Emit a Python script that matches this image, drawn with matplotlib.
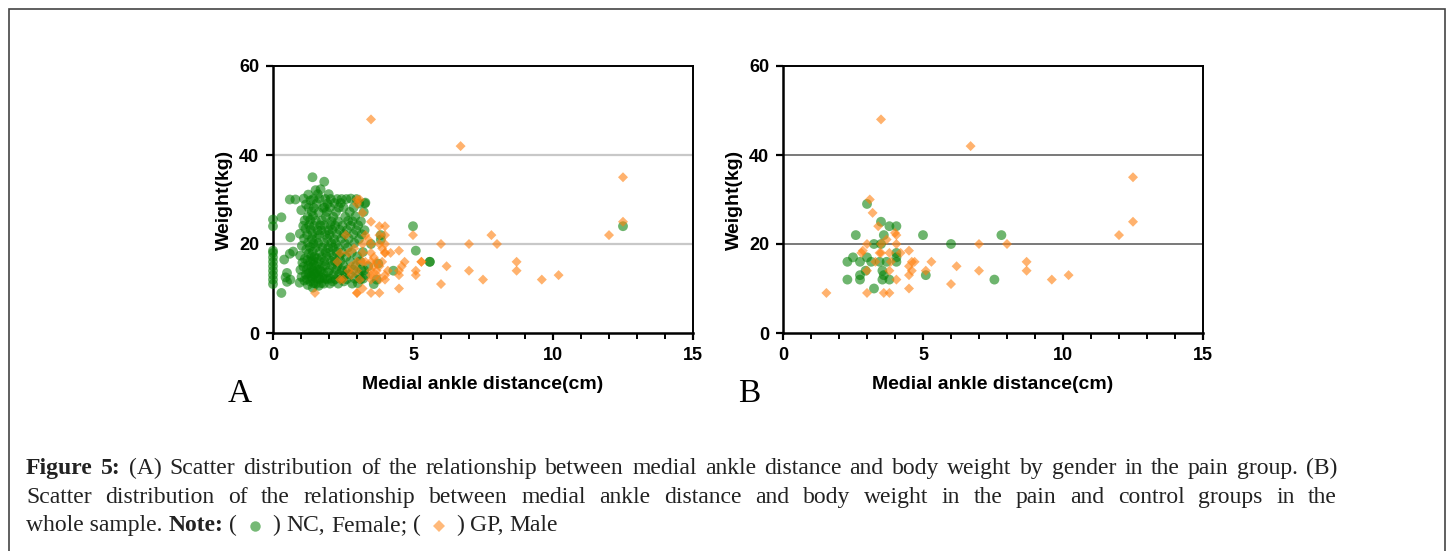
import matplotlib.pyplot as plt
from matplotlib.lines import Line2D
from matplotlib.patches import Rectangle

# ---- data ----
# Panel A: pain group split by gender
female_a = [
    (0, 11), (0, 12), (0, 13), (0, 14), (0, 15), (0, 16), (0, 17), (0, 18), (0, 18.5), (0, 24), (0, 25.5),
    (0.3, 9), (0.3, 26), (0.4, 16.5), (0.5, 13.5), (0.45, 12.5), (0.62, 12), (0.6, 17.8), (0.62, 21.5),
    (0.6, 30), (0.8, 30), (0.72, 18.3), (0.5, 11.5),
    (0.95, 11.3), (1.02, 12.6), (0.98, 14.2), (1.05, 15.8), (0.97, 17.4), (1.03, 19.6), (0.96, 22.3),
    (1.08, 24.1), (1.01, 27.6),
    (1.12, 11.8), (1.17, 13.1), (1.09, 14.9), (1.14, 16.7), (1.19, 18.8), (1.11, 21.2), (1.16, 23.4),
    (1.13, 25.3), (1.18, 28.9), (1.1, 30.2),
    (1.24, 10.8), (1.22, 12.1), (1.27, 13.4), (1.21, 14.3), (1.26, 15.2), (1.23, 16.4), (1.28, 17.9),
    (1.25, 20.3), (1.22, 22.1), (1.29, 24.2), (1.24, 26.1), (1.27, 28.2), (1.26, 31.1),
    (1.33, 11.6), (1.36, 12.7), (1.31, 13.6), (1.38, 14.8), (1.34, 16.1), (1.37, 17.2), (1.32, 19.3),
    (1.39, 21.1), (1.35, 23.2), (1.33, 25.4), (1.38, 27.3), (1.34, 29.8),
    (1.42, 10.2), (1.45, 11.2), (1.41, 12.3), (1.47, 13.2), (1.43, 14.1), (1.46, 15.3), (1.44, 16.2),
    (1.48, 17.1), (1.42, 18.3), (1.45, 20.1), (1.41, 22.2), (1.47, 24.1), (1.43, 26.3), (1.46, 28.1),
    (1.44, 30.1), (1.52, 32.1), (1.41, 35.0),
    (1.53, 11.1), (1.56, 12.2), (1.51, 13.3), (1.58, 14.2), (1.54, 15.1), (1.57, 16.8), (1.52, 19.2),
    (1.55, 21.3), (1.59, 23.1), (1.53, 25.2), (1.56, 29.1), (1.6, 31.2),
    (1.63, 10.6), (1.66, 12.1), (1.62, 13.1), (1.68, 14.2), (1.64, 16.1), (1.67, 18.2), (1.61, 20.2),
    (1.65, 22.1), (1.69, 24.2), (1.63, 27.1), (1.66, 30.2), (1.7, 32.3),
    (1.72, 11.2), (1.76, 12.4), (1.71, 13.9), (1.78, 15.1), (1.74, 17.1), (1.77, 19.2), (1.73, 23.1),
    (1.75, 25.3), (1.79, 28.1),
    (1.82, 11.1), (1.85, 12.2), (1.81, 13.2), (1.87, 15.2), (1.84, 16.1), (1.88, 18.1), (1.83, 20.2),
    (1.86, 22.1), (1.82, 24.2), (1.89, 26.1), (1.84, 28.2), (1.87, 30.1), (1.83, 34.0),
    (1.93, 12.1), (1.96, 13.6), (1.91, 17.2), (1.97, 19.1), (1.94, 21.2), (1.98, 23.1), (1.92, 27.2),
    (1.95, 29.1), (1.99, 31.2),
    (2.03, 11.1), (2.06, 12.2), (2.01, 14.1), (2.07, 16.2), (2.04, 18.1), (2.08, 20.2), (2.02, 22.1),
    (2.05, 24.2), (2.09, 25.1), (2.03, 28.2), (2.06, 30.1),
    (2.13, 11.6), (2.16, 13.1), (2.11, 15.2), (2.17, 17.1), (2.14, 19.2), (2.18, 21.1), (2.12, 23.2),
    (2.15, 26.1), (2.19, 29.2),
    (2.23, 12.1), (2.26, 14.2), (2.21, 16.1), (2.27, 18.2), (2.24, 20.1), (2.28, 22.2), (2.22, 24.1),
    (2.25, 27.2), (2.29, 30.1),
    (2.33, 11.1), (2.36, 13.2), (2.31, 15.1), (2.37, 17.2), (2.34, 19.1), (2.38, 23.2), (2.32, 25.1),
    (2.35, 28.2),
    (2.43, 12.2), (2.46, 14.1), (2.41, 16.2), (2.47, 18.1), (2.44, 21.2), (2.48, 24.1), (2.42, 29.2),
    (2.45, 30.1),
    (2.53, 11.6), (2.56, 13.1), (2.51, 15.2), (2.57, 20.1), (2.54, 22.2), (2.58, 26.1), (2.52, 28.2),
    (2.63, 12.1), (2.66, 14.2), (2.61, 17.1), (2.67, 19.2), (2.64, 23.1), (2.68, 25.2), (2.62, 30.1),
    (2.73, 13.2), (2.76, 16.1), (2.71, 21.2), (2.77, 24.1), (2.74, 27.2), (2.78, 30.2),
    (2.83, 11.1), (2.86, 14.2), (2.81, 18.1), (2.87, 22.2), (2.84, 25.1), (2.88, 28.2),
    (2.93, 12.2), (2.96, 15.1), (2.91, 20.2), (2.97, 23.1), (2.94, 26.2), (2.98, 30.1),
    (3.03, 11.2), (3.06, 13.1), (3.01, 17.2), (3.07, 21.1), (3.04, 24.2), (3.08, 29.1),
    (3.13, 12.1), (3.16, 14.2), (3.11, 16.1), (3.17, 22.2), (3.14, 25.1),
    (3.22, 12.2), (3.26, 14.1), (3.21, 18.2), (3.27, 23.1), (3.24, 27.2), (3.28, 29.1), (3.3, 29.3),
    (3.5, 20), (3.6, 11), (3.7, 12), (3.76, 15.6), (3.85, 21), (3.85, 22), (3.3, 13), (3.4, 15),
    (4.3, 14), (5.0, 24), (5.1, 18.5), (5.6, 16), (5.6, 16), (12.5, 24),
]
male_a = [
    (3.5, 48), (6.7, 42), (12.5, 35), (12.5, 25), (12.0, 22), (7.8, 22), (8.0, 20), (7.0, 20), (6.0, 20),
    (5.0, 22), (8.7, 16), (8.7, 14), (9.6, 12), (10.2, 13), (7.5, 12), (7.0, 14), (6.2, 15), (6.0, 11),
    (5.3, 16), (5.3, 16), (5.1, 14), (5.1, 13), (4.7, 16), (4.6, 15), (4.5, 18.5), (4.5, 14), (4.5, 13),
    (4.5, 10), (4.2, 18), (4.0, 18), (4.0, 18), (4.0, 24), (3.8, 24), (4.0, 22), (3.8, 22), (4.0, 20),
    (3.8, 20), (3.5, 25), (3.2, 27), (3.1, 30), (3.0, 29), (3.0, 30),
    (3.8, 9), (3.5, 9), (3.0, 9), (3.0, 9), (3.2, 10), (1.5, 9),
    (3.5, 20), (3.2, 20), (3.5, 18), (3.2, 18), (2.9, 19), (3.4, 21),
    (3.0, 16), (3.2, 16), (3.5, 16), (3.7, 16), (3.3, 16), (3.9, 16),
    (3.5, 14), (3.7, 14), (3.5, 13), (3.8, 12), (4.0, 12), (3.5, 12), (3.6, 15), (3.8, 15), (3.7, 13),
    (2.5, 12), (2.8, 13), (2.7, 14), (2.6, 22), (2.4, 18), (2.3, 16), (2.4, 12), (2.8, 15), (2.7, 18),
    (3.0, 14), (3.6, 17), (3.9, 19), (4.1, 14), (4.0, 13), (3.3, 22), (3.1, 12),
]

# Panel B: whole sample, control vs pain
nc_b = [
    (3.0, 29), (3.5, 25), (2.6, 22), (5.0, 22), (7.8, 22), (6.0, 20), (3.25, 20), (3.5, 20),
    (3.8, 24), (4.05, 24), (3.6, 22), (4.05, 18), (4.05, 17), (4.05, 16),
    (2.3, 16), (2.5, 17), (2.75, 16), (3.0, 17), (3.15, 16), (3.45, 16), (3.7, 16),
    (2.95, 14), (2.75, 13), (2.75, 12), (2.3, 12), (3.55, 14), (3.6, 13), (3.55, 12), (3.8, 12),
    (3.25, 10), (5.1, 13), (7.55, 12),
]
gp_b = [
    (3.5, 48), (6.7, 42), (12.5, 35), (12.5, 25), (12.0, 22), (8.0, 20), (7.0, 20), (8.7, 16), (8.7, 14),
    (9.6, 12), (10.2, 13), (7.0, 14), (6.2, 15), (6.0, 11), (5.3, 16), (5.1, 14), (4.7, 16), (4.6, 16),
    (4.5, 18.5), (4.5, 15), (4.6, 14), (4.5, 13), (4.5, 10), (4.2, 18), (4.05, 20), (4.05, 22), (4.0, 22.5),
    (4.05, 12), (3.8, 9), (3.6, 9), (3.0, 9), (1.55, 9), (3.1, 30), (3.2, 27), (3.4, 24), (3.5, 20),
    (3.7, 21), (3.45, 18), (3.5, 18), (3.0, 20), (2.85, 18.5), (2.8, 18), (3.0, 14), (3.3, 16), (3.8, 14),
    (3.8, 18), (3.85, 16),
]

W, H = 1453, 551
green = (0.02, 0.5, 0.02)
orange = (1.0, 0.5, 0.05)
sans = 'Liberation Sans'
serif = 'Liberation Serif'

fig = plt.figure(figsize=(W / 100, H / 100), dpi=100)

# frame around the whole figure
fig.add_artist(Rectangle((9 / W, -0.05), 1436 / W, 1 - 9 / H + 0.05, transform=fig.transFigure,
                         fill=False, edgecolor='#444444', linewidth=1.2))


def style_axes(ax, grid_color, grid_lw):
    ax.set_xlim(0, 15)
    ax.set_ylim(0, 60)
    ax.set_xticks([0, 5, 10, 15])
    ax.set_xticks(range(16), minor=True)
    ax.set_yticks([0, 20, 40, 60])
    for side in ['left', 'bottom']:
        ax.spines[side].set_linewidth(1.8)
    for side in ['top', 'right']:
        ax.spines[side].set_linewidth(1.4)
    ax.tick_params(which='major', length=5, width=1.6, pad=5, labelsize=13)
    ax.tick_params(which='minor', length=4, width=1.4)
    ax.tick_params(axis='y', which='minor', length=0)
    for lab in ax.get_xticklabels() + ax.get_yticklabels():
        lab.set_fontweight('bold')
        lab.set_family(sans)
    for yv in [20, 40]:
        ax.axhline(yv, color=grid_color, linewidth=grid_lw, zorder=1)
    ax.set_xlabel('Medial ankle distance(cm)', fontsize=14, fontweight='bold', family=sans)
    ax.set_ylabel('Weight(kg)', fontsize=14, fontweight='bold', family=sans)
    ax.xaxis.set_label_coords(0.5, -0.16)
    ax.yaxis.set_label_coords(-0.095, 0.5)


def draw(ax, circles, diamonds):
    cx, cy = zip(*circles)
    dx, dy = zip(*diamonds)
    ax.scatter(cx, cy, s=50, marker='o', color=green, alpha=0.58, edgecolors='none', zorder=3, clip_on=False)
    ax.scatter(dx, dy, s=26, marker='D', color=orange, alpha=0.6, edgecolors='none', zorder=4, clip_on=False)


axA = fig.add_axes([273 / W, 1 - 333 / H, 420 / W, 267 / H])
style_axes(axA, '#c8c8c8', 1.6)
draw(axA, female_a, male_a)

axB = fig.add_axes([783 / W, 1 - 333 / H, 420 / W, 267 / H])
style_axes(axB, '#555555', 1.1)
draw(axB, nc_b, gp_b)

fig.text(240 / W, 1 - 402 / H, 'A', fontsize=24, family=serif, ha='center', va='baseline')
fig.text(749 / W, 1 - 402 / H, 'B', fontsize=24, family=serif, ha='center', va='baseline')

# ---- caption ----
cap_fs = 17
renderer = fig.canvas.get_renderer()


def text_w(s, weight='normal'):
    t = fig.text(0, 0, s, fontsize=cap_fs, family=serif, weight=weight)
    w = t.get_window_extent(renderer).width
    t.remove()
    return w


space_w = text_w('a a') - text_w('aa')


def justified(words, y, x0=26, x1=1337):
    widths = [text_w(s, wt) for s, wt in words]
    gap = (x1 - x0 - sum(widths)) / (len(words) - 1)
    x = x0
    for (s, wt), w in zip(words, widths):
        fig.text(x / W, 1 - y / H, s, fontsize=cap_fs, family=serif, weight=wt, color='#222222', va='baseline')
        x += w + gap


line1 = 'Figure 5: (A) Scatter distribution of the relationship between medial ankle distance and body weight by gender in the pain group. (B)'
line2 = 'Scatter distribution of the relationship between medial ankle distance and body weight in the pain and control groups in the'
words1 = [(w, 'bold' if i < 2 else 'normal') for i, w in enumerate(line1.split())]
justified(words1, 474)
justified([(w, 'normal') for w in line2.split()], 503)

# third line with the marker keys
y3 = 531
x = 26
runs = [('whole sample.', 'normal'), ('Note:', 'bold'), ('(', 'normal'), ('M', green),
        (')', 'normal'), ('NC,', 'normal'), ('Female;', 'normal'), ('(', 'normal'), ('M', orange),
        (')', 'normal'), ('GP,', 'normal'), ('Male', 'normal')]
for s, wt in runs:
    if s == 'M':
        mk = 'o' if wt == green else 'D'
        ms = 7.5 if wt == green else 6.5
        fig.add_artist(Line2D([(x + 12) / W], [1 - (y3 - 5) / H], marker=mk, markersize=ms, color=wt,
                              alpha=0.55, markeredgewidth=0, transform=fig.transFigure))
        x += 24 + space_w
        continue
    fig.text(x / W, 1 - y3 / H, s, fontsize=cap_fs, family=serif, weight=wt, color='#222222', va='baseline')
    x += text_w(s, wt) + space_w

fig.savefig('out.png', dpi=100)
